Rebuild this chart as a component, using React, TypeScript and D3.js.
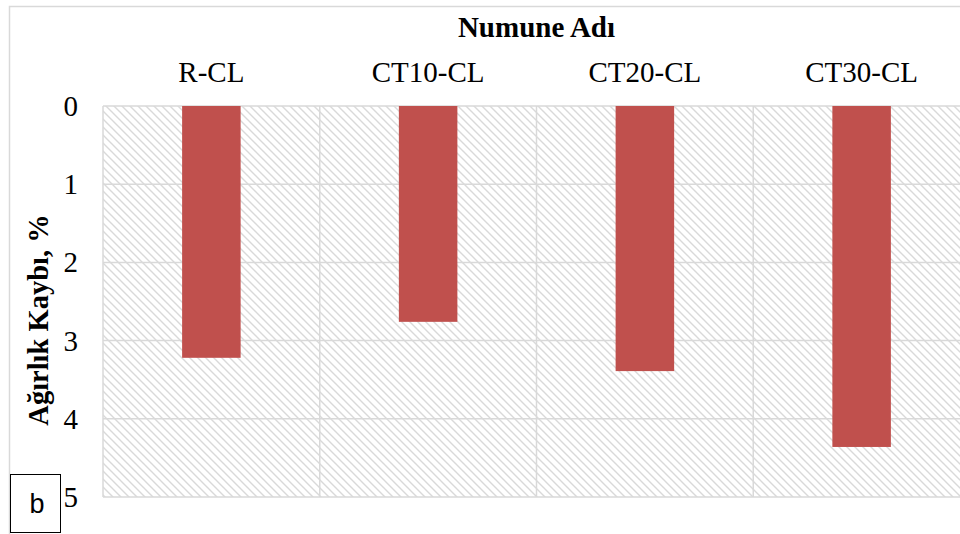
import React from 'react';
import * as d3 from 'd3';

// values
const categories = ['R-CL', 'CT10-CL', 'CT20-CL', 'CT30-CL'];
const weightLoss = [3.22, 2.76, 3.39, 4.36];
const yTicks = [0, 1, 2, 3, 4, 5];

const W = 960;
const H = 534;
const margin = { top: 106, right: -10, bottom: 37, left: 103 };

const serif = '"Liberation Serif", "Times New Roman", serif';

const App = () => {
  const x = d3.scaleBand<string>()
    .domain(categories)
    .range([margin.left, W - margin.right])
    .padding(0);

  const y = d3.scaleLinear()
    .domain([0, 5])
    .range([margin.top, H - margin.bottom]);

  const barW = x.bandwidth() * 0.27;
  const gridColor = '#d9d9d9';

  return (
    <svg
      width={W}
      height={H}
      style={{ position: 'absolute', left: 0, top: 0, background: '#fff' }}
    >
      <defs>
        <pattern id="hatch" patternUnits="userSpaceOnUse" width="8" height="8">
          <path d="M-1,-1 L9,9 M-1,7 L1,9 M7,-1 L9,1" stroke="#d9d9d9" strokeWidth="1.4" />
        </pattern>
      </defs>

      {/* outer chart frame */}
      <rect x={9.5} y={6.5} width={1000} height={600} fill="none" stroke={gridColor} strokeWidth={1.5} />

      {/* plot area background */}
      <rect
        x={margin.left}
        y={y(0)}
        width={W - margin.right - margin.left}
        height={y(5) - y(0)}
        fill="url(#hatch)"
      />

      {/* horizontal gridlines */}
      {yTicks.map(t => (
        <line key={t} x1={margin.left} x2={W - margin.right} y1={y(t)} y2={y(t)} stroke={gridColor} strokeWidth={1.5} />
      ))}
      {/* vertical gridlines */}
      {categories.map(c => (
        <line key={c} x1={x(c)} x2={x(c)} y1={y(0)} y2={y(5)} stroke={gridColor} strokeWidth={1.5} />
      ))}

      {/* bars hanging down from 0 */}
      {categories.map((c, i) => (
        <rect
          key={c}
          x={(x(c) as number) + x.bandwidth() / 2 - barW / 2}
          y={y(0)}
          width={barW}
          height={y(weightLoss[i]) - y(0)}
          fill="#c0504d"
        />
      ))}

      {/* y tick labels */}
      {yTicks.map(t => (
        <text key={t} x={78} y={y(t) + 10} textAnchor="end" fontFamily={serif} fontSize={29} fill="#000">
          {t}
        </text>
      ))}

      {/* category labels on top */}
      {categories.map(c => (
        <text
          key={c}
          x={(x(c) as number) + x.bandwidth() / 2}
          y={82}
          textAnchor="middle"
          fontFamily={serif}
          fontSize={29}
          fill="#000"
        >
          {c}
        </text>
      ))}

      {/* axis title */}
      <text x={(margin.left + W - margin.right) / 2} y={37} textAnchor="middle" fontFamily={serif} fontSize={29} fontWeight="bold">
        Numune Adı
      </text>

      <text
        transform={`translate(48,320) rotate(-90)`}
        textAnchor="middle"
        fontFamily={serif}
        fontSize={28.5}
        fontWeight="bold"
      >
        Ağırlık Kaybı, %
      </text>

      {/* panel label */}
      <rect x={10.5} y={474.5} width={50} height={58} fill="#fff" stroke="#000" strokeWidth={1} />
      <text x={37} y={513} textAnchor="middle" fontFamily='"Liberation Sans", Arial, sans-serif' fontSize={27}>
        b
      </text>
    </svg>
  );
};

export default App;
